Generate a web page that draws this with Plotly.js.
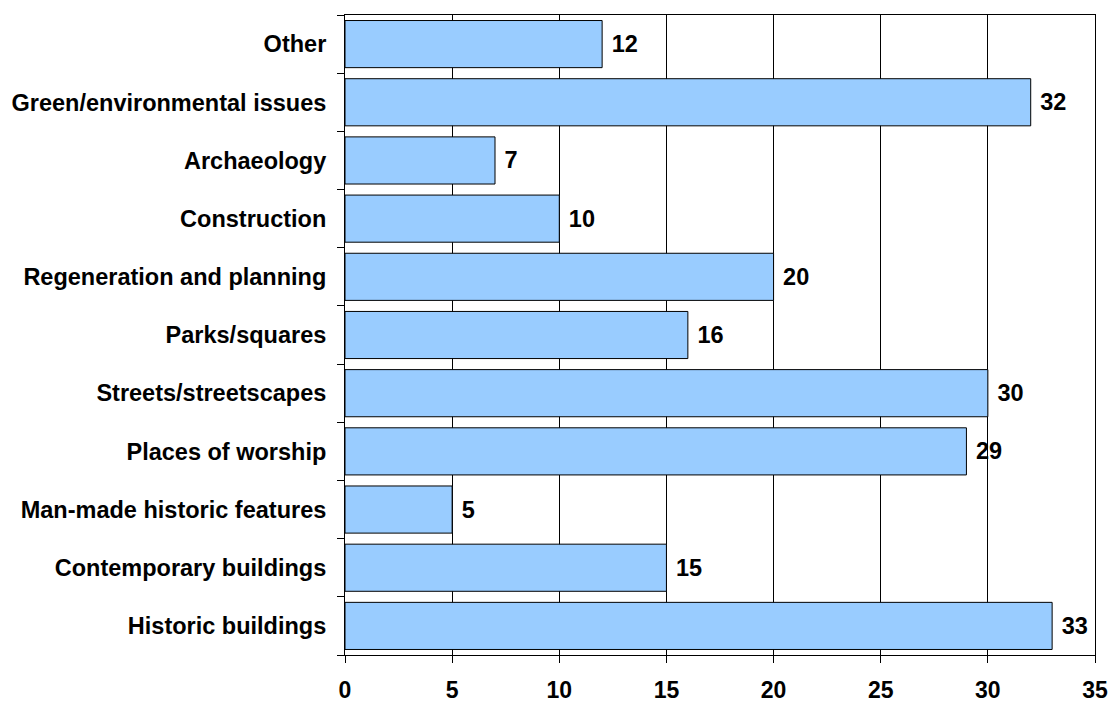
<!DOCTYPE html>
<html>
<head>
<meta charset="utf-8">
<script src="https://cdn.plot.ly/plotly-3.0.1.min.js"></script>
<style>html,body{margin:0;padding:0;background:#fff;}#chart{width:1110px;height:702px;}</style>
</head>
<body>
<div id="chart"></div>
<script>
const categories = [
  "Historic buildings",
  "Contemporary buildings",
  "Man-made historic features",
  "Places of worship",
  "Streets/streetscapes",
  "Parks/squares",
  "Regeneration and planning",
  "Construction",
  "Archaeology",
  "Green/environmental issues",
  "Other"
];
const counts = [33, 15, 5, 29, 30, 16, 20, 10, 7, 32, 12];
const xTickValues = [0, 5, 10, 15, 20, 25, 30, 35];

const font = "Liberation Sans, Arial, sans-serif";

const trace = {
  type: "bar",
  orientation: "h",
  y: categories,
  x: counts,
  marker: {color: "#99CCFF", line: {color: "#000000", width: 1}},
  text: counts.map(v => String(v)),
  texttemplate: " %{text}",
  textposition: "outside",
  textfont: {family: font, size: 23.5, color: "#000", weight: "bold"},
  cliponaxis: false,
  hoverinfo: "none"
};

const layout = {
  width: 1110,
  height: 702,
  margin: {l: 345, r: 15, t: 15, b: 47},
  paper_bgcolor: "#fff",
  plot_bgcolor: "#fff",
  showlegend: false,
  bargap: 0.19,
  font: {family: font, color: "#000"},
  xaxis: {
    range: [0, 35],
    tickvals: xTickValues,
    ticktext: xTickValues.map(String),
    ticks: "outside",
    ticklen: 7,
    tickcolor: "#000",
    tickwidth: 1,
    showgrid: true,
    gridcolor: "#000",
    gridwidth: 1,
    zeroline: false,
    showline: true,
    linecolor: "#000",
    linewidth: 1,
    mirror: true,
    tickfont: {family: font, size: 23, color: "#000", weight: "bold"},
    ticklabelstandoff: 7,
    fixedrange: true
  },
  yaxis: {
    type: "category",
    ticks: "outside",
    tickson: "boundaries",
    ticklen: 7,
    tickcolor: "#000",
    tickwidth: 1,
    showgrid: false,
    zeroline: false,
    showline: true,
    linecolor: "#000",
    linewidth: 1,
    mirror: true,
    tickfont: {family: font, size: 23.5, color: "#000", weight: "bold"},
    ticklabelstandoff: 13,
    fixedrange: true
  }
};

Plotly.newPlot("chart", [trace], layout, {displayModeBar: false, staticPlot: true});
</script>
</body>
</html>
